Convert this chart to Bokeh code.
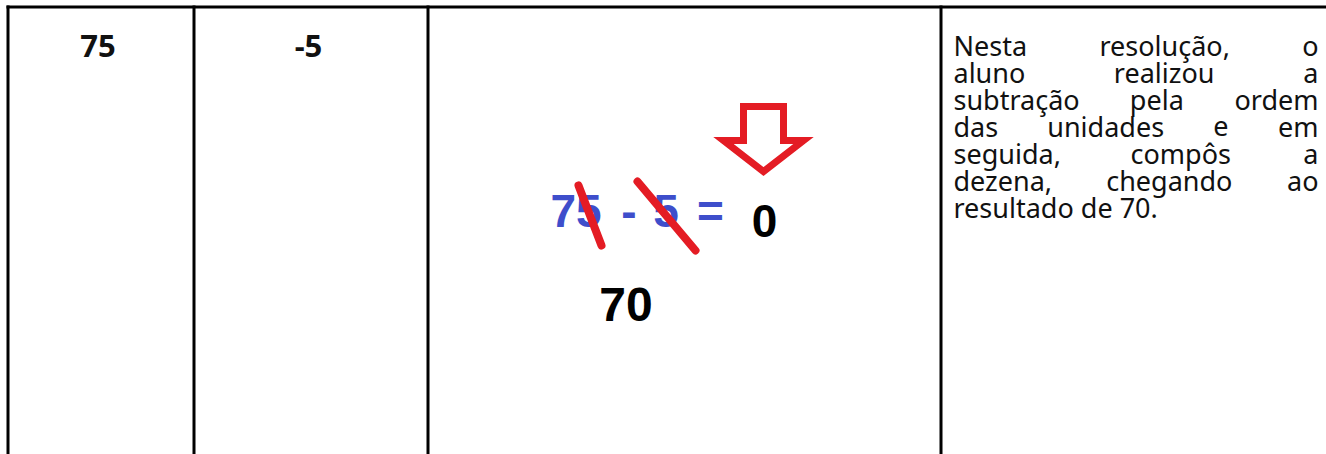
from bokeh.plotting import figure
from bokeh.models import Range1d, ColumnDataSource
from bokeh.core.properties import value
from bokeh.embed import file_html
from bokeh.resources import INLINE

# ---------------- data ----------------
cell_values = ["75", "-5"]
cell_centers = [97.5, 308]
paragraph = [
    "Nesta resolução, o",
    "aluno realizou a",
    "subtração pela ordem",
    "das unidades e em",
    "seguida, compôs a",
    "dezena, chegando ao",
    "resultado de 70.",
]
col_lines = [7.5, 193.5, 427.5, 940.5]
expr_parts = ["75", "-", "5", "="]
expr_centers = [575.5, 628.5, 665.5, 710]
sketch_zero = "0"
sketch_result = "70"
slash_x0 = [578, 637]
slash_y0 = [185, 181]
slash_x1 = [601, 695]
slash_y1 = [245, 250]
arrow_x = [743, 783, 783, 803, 763, 723, 743]
arrow_y = [106, 106, 140, 140, 171, 140, 140]

W, H = 1326, 454
SHIFT = 0.38  # em offset of rendered alphabetic baseline
p = figure(width=W, height=H, x_range=Range1d(0, W), y_range=Range1d(H, 0),
           output_backend="svg", toolbar_location=None, min_border=0)
p.axis.visible = False
p.grid.visible = False
p.outline_line_color = None
p.background_fill_color = "white"
p.border_fill_color = "white"

# table borders
p.segment(x0=col_lines, y0=[5] * 4, x1=col_lines, y1=[H] * 4,
          line_color="black", line_width=3)
p.segment(x0=[6], y0=[6.5], x1=[W], y1=[6.5], line_color="black", line_width=3)

# first two cells
fs_cell = 31
p.text(x=cell_centers, y=[57 - SHIFT * fs_cell] * 2, text=cell_values,
       text_font=value("Noto Sans"), text_font_style="bold",
       text_font_size=f"{fs_cell}px", text_align="center",
       text_baseline="alphabetic", text_color="#111111")

# justified paragraph
adv = {' ': 532, ',': 502, '.': 545, '0': 1171, '7': 1171, 'N': 1599, 'a': 1139,
       'b': 1255, 'c': 975, 'd': 1255, 'e': 1149, 'g': 1122, 'h': 1257, 'i': 518,
       'l': 518, 'm': 1905, 'n': 1257, 'o': 1237, 'p': 1255, 'r': 836, 's': 977,
       't': 723, 'u': 1257, 'z': 977, 'ç': 975, 'ã': 1139, 'ô': 1237}
fs = 27
def wid(s):
    return sum(adv.get(c, 1100) for c in s) / 2048 * fs

left, right = 953, 1318
base0, lh = 55, 27.0
wx, wy, wt, wa = [], [], [], []
for i, line in enumerate(paragraph):
    words = line.split(" ")
    y = base0 + i * lh - SHIFT * fs
    if i == len(paragraph) - 1:
        wx.append(left); wy.append(y); wt.append(line); wa.append("left")
        continue
    ws = [wid(w) for w in words]
    gap = (right - left - sum(ws)) / (len(words) - 1)
    x = left
    for j, w in enumerate(words):
        if j == 0:
            wx.append(left); wa.append("left")
        elif j == len(words) - 1:
            wx.append(right); wa.append("right")
        else:
            wx.append(x + ws[j] / 2); wa.append("center")
        wy.append(y); wt.append(w)
        x += ws[j] + gap
src = ColumnDataSource(dict(x=wx, y=wy, t=wt, a=wa))
p.text(x="x", y="y", text="t", text_align="a", source=src,
       text_font=value("Noto Sans"), text_font_size=f"{fs}px",
       text_baseline="alphabetic", text_color="#111111")

# sketch image in third column
fs_expr = 46
p.text(x=expr_centers, y=[228 - SHIFT * fs_expr] * len(expr_parts), text=expr_parts,
       text_font=value("Liberation Sans"), text_font_style="bold",
       text_font_size=f"{fs_expr}px", text_color="#3e4ecb",
       text_baseline="alphabetic", text_align="center")
p.segment(x0=slash_x0, y0=slash_y0, x1=slash_x1, y1=slash_y1,
          line_color="#e41c24", line_width=8, line_cap="round")
p.text(x=[764], y=[238 - SHIFT * 46], text=[sketch_zero], text_font=value("Liberation Sans"),
       text_font_style="bold", text_font_size="46px", text_color="black",
       text_baseline="alphabetic", text_align="center")
p.text(x=[625.5], y=[322 - SHIFT * 48], text=[sketch_result], text_font=value("Liberation Sans"),
       text_font_style="bold", text_font_size="48px", text_color="black",
       text_baseline="alphabetic", text_align="center")
p.patch(x=arrow_x, y=arrow_y, fill_color="white", line_color="#e41c24",
        line_width=7, line_join="miter")

html = file_html(p, INLINE)
html = html.replace("<head>", "<head><style>html,body{margin:0;padding:0;overflow:hidden;}</style>", 1)
open("out.html", "w").write(html)
